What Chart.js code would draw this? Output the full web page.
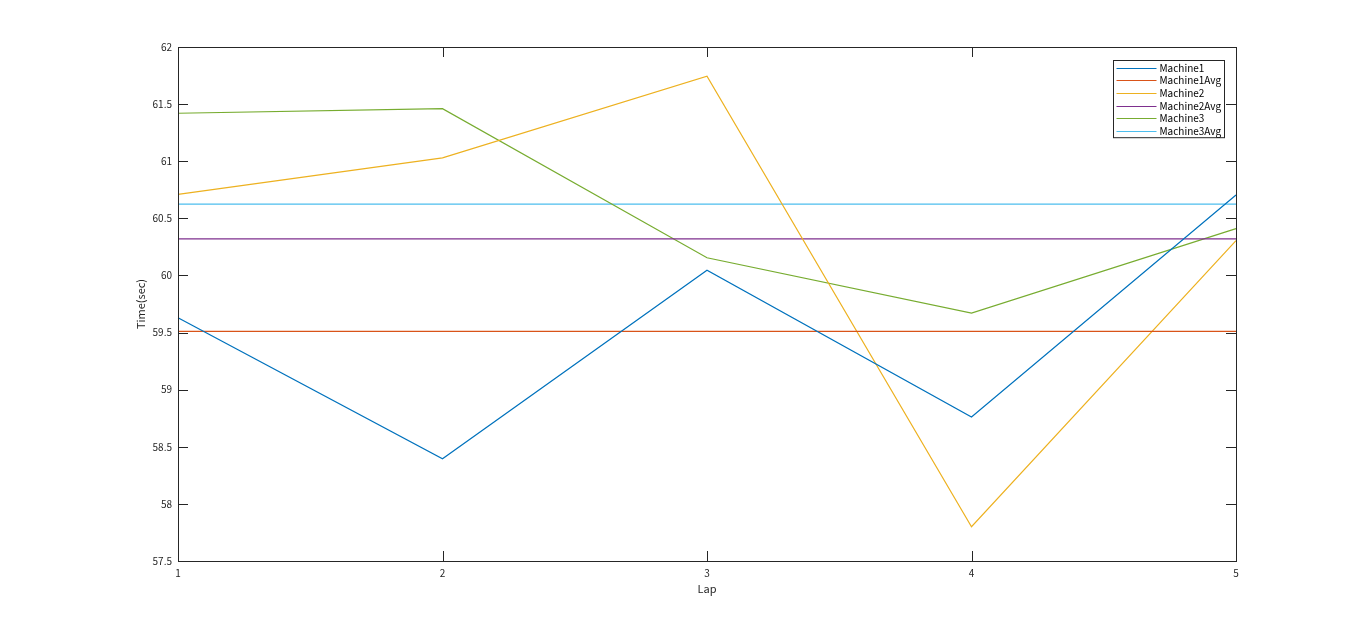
<!DOCTYPE html>
<html>
<head>
<meta charset="utf-8">
<script src="https://cdn.jsdelivr.net/npm/chart.js@4"></script>
<style>
  html, body { margin: 0; padding: 0; background: #fff; }
  #wrap { width: 1366px; height: 631px; }
</style>
</head>
<body>
<div id="wrap"><canvas id="chart1" width="1366" height="631"></canvas></div>
<script>
// values
const laps = ['1', '2', '3', '4', '5'];
const machine1 = [59.63, 58.395, 60.045, 58.76, 60.705];
const machine1Avg = [59.51, 59.51, 59.51, 59.51, 59.51];
const machine2 = [60.71, 61.03, 61.745, 57.80, 60.305];
const machine2Avg = [60.32, 60.32, 60.32, 60.32, 60.32];
const machine3 = [61.42, 61.46, 60.155, 59.67, 60.41];
const machine3Avg = [60.625, 60.625, 60.625, 60.625, 60.625];
const seriesNames = ['Machine1', 'Machine1Avg', 'Machine2', 'Machine2Avg', 'Machine3', 'Machine3Avg'];
const seriesColors = ['#0072BD', '#D95319', '#EDB120', '#7E2F8E', '#77AC30', '#4DBEEE'];

const fontFamily = '"Noto Sans CJK JP", "DejaVu Sans", sans-serif';
const axisColor = '#262626';

document.addEventListener("DOMContentLoaded", function() {
    const allData = [machine1, machine1Avg, machine2, machine2Avg, machine3, machine3Avg];
    const datasets = allData.map(function(d, i) {
        return {
            label: seriesNames[i],
            data: d,
            borderColor: seriesColors[i],
            backgroundColor: seriesColors[i],
            borderWidth: 1.2,
            pointRadius: 0,
            tension: 0,
            fill: false
        };
    });

    // box, inward ticks on all four sides, and a matlab-style legend
    const boxPlugin = {
        id: 'boxTicks',
        afterDraw(chart) {
            const ctx = chart.ctx;
            const a = chart.chartArea;
            const xs = chart.scales.x, ys = chart.scales.y;
            ctx.save();
            ctx.strokeStyle = axisColor;
            ctx.lineWidth = 1;
            ctx.beginPath();
            xs.ticks.forEach(function(t, i) {
                const px = Math.round(xs.getPixelForTick(i)) + 0.5;
                ctx.moveTo(px, a.bottom); ctx.lineTo(px, a.bottom - 10);
                ctx.moveTo(px, a.top); ctx.lineTo(px, a.top + 10);
            });
            ys.ticks.forEach(function(t) {
                const py = Math.round(ys.getPixelForValue(t.value)) + 0.5;
                ctx.moveTo(a.left, py); ctx.lineTo(a.left + 10, py);
                ctx.moveTo(a.right, py); ctx.lineTo(a.right - 10, py);
            });
            ctx.stroke();
            ctx.strokeRect(Math.round(a.left) + 0.5, Math.round(a.top) + 0.5,
                Math.round(a.right - a.left), Math.round(a.bottom - a.top));

            // legend
            const lw = 111, rowH = 12.7;
            const lh = rowH * chart.data.datasets.length + 1;
            const lx = Math.round(a.right - 12 - lw) + 0.5;
            const ly = Math.round(a.top + 13) + 0.5;
            ctx.fillStyle = '#fff';
            ctx.fillRect(lx, ly, lw, lh);
            ctx.strokeStyle = axisColor;
            ctx.strokeRect(lx, ly, lw, lh);
            ctx.font = '10px ' + fontFamily;
            ctx.textBaseline = 'middle';
            ctx.textAlign = 'left';
            chart.data.datasets.forEach(function(ds, i) {
                const y = Math.round(ly + 7 + i * rowH) + 0.5;
                ctx.strokeStyle = ds.borderColor;
                ctx.lineWidth = 1.2;
                ctx.beginPath();
                ctx.moveTo(lx + 3, y);
                ctx.lineTo(lx + 43, y);
                ctx.stroke();
                ctx.fillStyle = '#000';
                ctx.fillText(ds.label, lx + 46, y);
            });
            ctx.restore();
        }
    };

    const ctx1 = document.getElementById('chart1').getContext('2d');
    new Chart(ctx1, {
        type: 'line',
        data: { labels: laps, datasets: datasets },
        options: {
            responsive: false,
            animation: false,
            layout: { padding: { left: 128, right: 130, top: 47, bottom: 30 } },
            plugins: {
                legend: { display: false },
                tooltip: { enabled: false }
            },
            scales: {
                x: {
                    offset: false,
                    grid: { display: false, drawTicks: false, tickLength: 0 },
                    border: { display: false },
                    ticks: {
                        color: axisColor,
                        padding: 6,
                        maxRotation: 0,
                        font: { family: fontFamily, size: 10 }
                    },
                    title: {
                        display: true,
                        text: 'Lap',
                        color: axisColor,
                        padding: { top: 0, bottom: 6 },
                        font: { family: fontFamily, size: 11 }
                    },
                    afterFit: function(scale) { scale.height = 40; }
                },
                y: {
                    min: 57.5,
                    max: 62,
                    grid: { display: false, drawTicks: false, tickLength: 0 },
                    border: { display: false },
                    ticks: {
                        stepSize: 0.5,
                        color: axisColor,
                        padding: 6,
                        font: { family: fontFamily, size: 10 },
                        callback: function(v) { return String(Number(v.toFixed(1))); }
                    },
                    title: {
                        display: true,
                        text: 'Time(sec)',
                        color: axisColor,
                        padding: { top: 6, bottom: 0 },
                        font: { family: fontFamily, size: 11 }
                    },
                    afterFit: function(scale) { scale.width = 50; }
                }
            }
        },
        plugins: [boxPlugin]
    });
});
</script>
</body>
</html>
